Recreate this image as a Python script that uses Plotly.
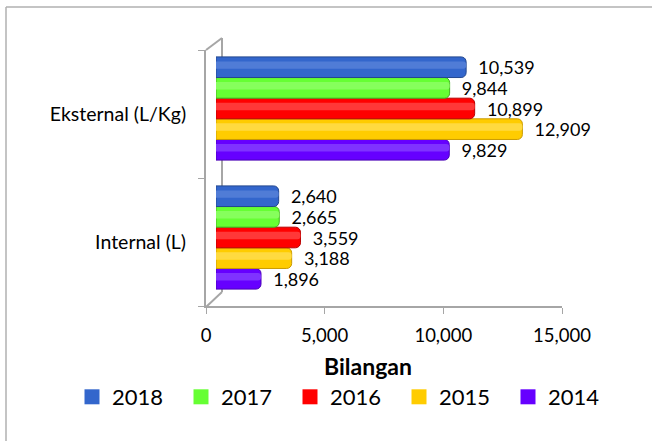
import plotly.graph_objects as go

# ---- data ----
categories = ["Internal (L)", "Eksternal (L/Kg)"]
years = ["2014", "2015", "2016", "2017", "2018"]
values = {
    "2014": [1896, 9829],
    "2015": [3188, 12909],
    "2016": [3559, 10899],
    "2017": [2665, 9844],
    "2018": [2640, 10539],
}
colors = {
    "2014": "#6600FF",
    "2015": "#FFCC00",
    "2016": "#FF0000",
    "2017": "#66FF33",
    "2018": "#3366CC",
}
edge = {
    "2014": "#4A00B8",
    "2015": "#C99A00",
    "2016": "#B80000",
    "2017": "#44B020",
    "2018": "#23478F",
}
shine = {
    "2014": "#7F33FF",
    "2015": "#FFDA40",
    "2016": "#FF3838",
    "2017": "#86FF5C",
    "2018": "#507CD6",
}
x_ticks = [0, 5000, 10000, 15000]
x_title = "Bilangan"

# ---- geometry helpers (pixel -> paper) ----
W_FIG, H_FIG = 652, 441
L, R, T, B = 206, 572, 44, 306
PW, PH = R - L, B - T
def px(x):
    return (x - L) / PW
def py(y):
    return (B - y) / PH

FONT = "Lato"
GREY = "#A6A6A6"
GROUP = 0.8
BW = GROUP / len(years)

fig = go.Figure()

# invisible trace to establish categories on the front (label) axes
fig.add_trace(go.Scatter(x=[0, 0], y=categories, mode="markers",
                         marker=dict(opacity=0), showlegend=False,
                         hoverinfo="skip", xaxis="x", yaxis="y"))

for i, yr in enumerate(years):
    off = -GROUP / 2 + BW * i
    fig.add_trace(go.Bar(
        name=yr, y=categories, x=values[yr], orientation="h",
        width=BW, offset=off,
        marker=dict(color=colors[yr], line=dict(color=edge[yr], width=1),
                    cornerradius=5),
        text=values[yr], texttemplate="  %{x:,}", textposition="outside",
        constraintext="none",
        textfont=dict(family=FONT, size=18, color="black"),
        cliponaxis=False, showlegend=False,
        xaxis="x2", yaxis="y2"))
    # cylinder highlight
    fig.add_trace(go.Bar(
        y=categories, x=values[yr], orientation="h",
        width=BW * 0.36, offset=off + BW * 0.42,
        marker=dict(color=shine[yr], line=dict(width=0), cornerradius=3),
        showlegend=False, hoverinfo="skip",
        xaxis="x2", yaxis="y2"))

# legend entries (2018 first)
for yr in reversed(years):
    fig.add_trace(go.Scatter(
        name=yr, x=[None], y=[None], mode="markers",
        marker=dict(symbol="square", size=15, color=colors[yr]),
        xaxis="x", yaxis="y"))

shapes = [
    dict(type="line", xref="paper", yref="paper",
         x0=px(6), y0=py(7), x1=px(660), y1=py(7),
         line=dict(color="#B0B0B0", width=1.5), layer="above"),
    dict(type="line", xref="paper", yref="paper",
         x0=px(6), y0=py(7), x1=px(6), y1=py(450),
         line=dict(color="#B0B0B0", width=1.5), layer="above"),
    dict(type="line", xref="paper", yref="paper",
         x0=px(222), y0=py(38), x1=px(222), y1=py(292),
         line=dict(color=GREY, width=2), layer="below"),
    dict(type="line", xref="paper", yref="paper",
         x0=px(206), y0=py(50), x1=px(222), y1=py(38),
         line=dict(color=GREY, width=2), layer="below"),
    dict(type="line", xref="paper", yref="paper",
         x0=px(206), y0=py(307), x1=px(222), y1=py(292),
         line=dict(color=GREY, width=2), layer="below"),
]

fig.update_layout(
    width=W_FIG, height=H_FIG,
    margin=dict(l=L, r=W_FIG - R, t=T, b=H_FIG - B, pad=0),
    paper_bgcolor="white", plot_bgcolor="rgba(0,0,0,0)",
    barmode="overlay",
    font=dict(family=FONT, size=18.5, color="black"),
    xaxis=dict(domain=[0, px(562)], anchor="y", range=[0, 15000],
               tickvals=x_ticks, tickformat=",", showgrid=False,
               zeroline=False, showline=True, linecolor=GREY, linewidth=2,
               ticks="outside", ticklen=6, tickcolor=GREY, tickwidth=1,
               ticklabelstandoff=6,
               tickfont=dict(family=FONT, size=18.5, color="black")),
    xaxis2=dict(domain=[px(216), 1], anchor="y2", range=[0, 15000],
                visible=False),
    yaxis=dict(domain=[0, py(50)], anchor="x", type="category",
               categoryorder="array", categoryarray=categories,
               range=[-0.5, 1.5], showgrid=False, zeroline=False,
               showline=True, linecolor=GREY, linewidth=2,
               ticks="outside", tickson="boundaries", ticklen=6,
               tickcolor=GREY, tickwidth=1, ticklabelstandoff=14,
               tickfont=dict(family=FONT, size=19.5, color="black")),
    yaxis2=dict(domain=[py(302), 1], anchor="x2", type="category",
                categoryorder="array", categoryarray=categories,
                range=[-0.5, 1.5], visible=False),
    legend=dict(orientation="h", x=px(72), y=py(376), xanchor="left",
                yanchor="top", entrywidth=64, entrywidthmode="pixels",
                font=dict(family=FONT, size=22, color="black"),
                bgcolor="rgba(0,0,0,0)", itemclick=False),
    annotations=[dict(text="<b>" + x_title + "</b>", xref="paper",
                      yref="paper", x=px(368), y=py(366), showarrow=False,
                      xanchor="center", yanchor="middle",
                      font=dict(family=FONT, size=23, color="black"))],
    shapes=shapes,
    hovermode=False,
)

fig.write_html("out.html", config={"displayModeBar": False},
               post_script="document.body.style.margin='0';")
